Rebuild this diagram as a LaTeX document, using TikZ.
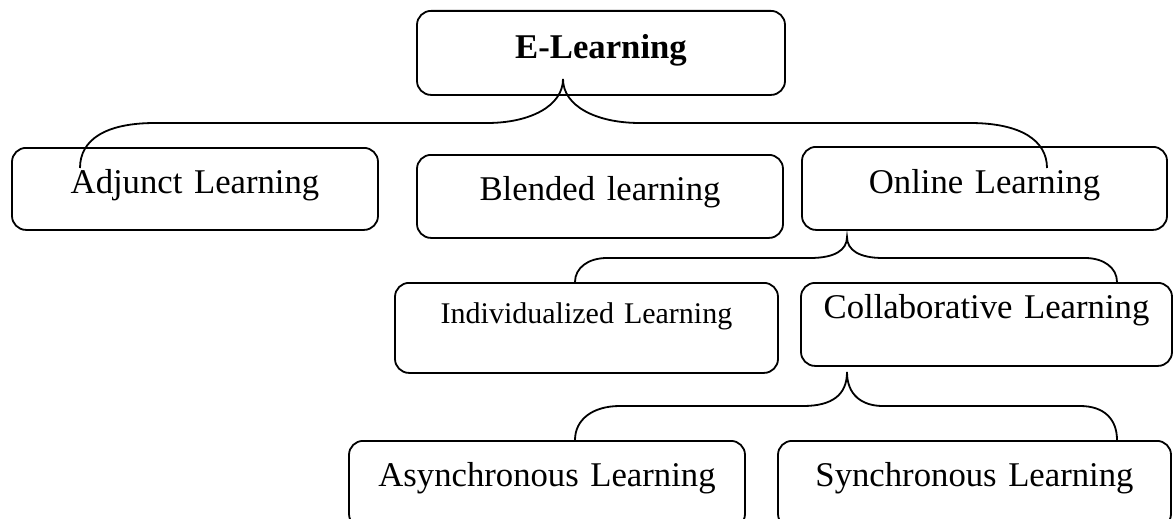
\documentclass[tikz,border=0pt]{standalone}
\usepackage{fontspec}
\setmainfont{Liberation Serif}
\begin{document}
\begin{tikzpicture}[x=1pt,y=-1pt]
\tikzset{
  box/.style={draw, line width=1.8pt, rounded corners=14pt, inner sep=0pt,
    align=center, anchor=north, font=\fontsize{34.7pt}{40pt}\selectfont},
  brace/.style={line width=1.8pt},
}
\useasboundingbox (0,0) rectangle (1173,519);
% boxes
\node[box, text width=368pt, text height=48pt, text depth=36pt] (elearn) at (601,10) {\textbf{E-Learning}};
\node[box, text width=366pt, text height=46pt, text depth=36pt] (adj) at (195,147) {Adjunct Learning};
\node[box, text width=366pt, text height=46pt, text depth=37pt] (blend) at (600,154) {Blended learning};
\node[box, text width=365pt, text height=47pt, text depth=36pt] (online) at (984.5,146) {Online Learning};
\node[box, text width=383pt, text height=41pt, text depth=49pt, font=\fontsize{30pt}{36pt}\selectfont] (indiv) at (586.5,282) {Individualized Learning};
\node[box, text width=371pt, text height=36pt, text depth=47pt] (collab) at (986.5,282) {Collaborative Learning};
\node[box, text width=396pt, text height=46pt, text depth=41pt] (async) at (547,440) {Asynchronous Learning};
\node[box, text width=393pt, text height=46pt, text depth=41pt] (sync) at (974.5,440) {Synchronous Learning};
% brace points
\coordinate (etip) at (563,79);
\coordinate (el) at (80,168);
\coordinate (er) at (1047,168);
\coordinate (otip) at (847,237);
\coordinate (ol) at (575,282);
\coordinate (or) at (1117,282);
\coordinate (ctip) at (847,372);
\coordinate (cl) at (575,440);
\coordinate (cr) at (1117,440);
% braces
\draw[brace] (el) .. controls (80,140) and (105,123) .. (155,123) -- (487,123)
  .. controls (530,123) and (563,106) .. (etip)
  .. controls (563,106) and (596,123) .. (640,123) -- (970,123)
  .. controls (1020,123) and (1047,140) .. (er);
\draw[brace] (ol) .. controls (575,268) and (588,258) .. (607,258) -- (810,258)
  .. controls (835,258) and (847,250) .. (otip)
  .. controls (847,250) and (859,258) .. (883,258) -- (1085,258)
  .. controls (1104,258) and (1117,268) .. (or);
\draw[brace] (cl) .. controls (575,420) and (592,406) .. (620,406) -- (803,406)
  .. controls (832,406) and (847,395) .. (ctip)
  .. controls (847,395) and (862,406) .. (883,406) -- (1080,406)
  .. controls (1105,406) and (1117,420) .. (cr);
\end{tikzpicture}
\end{document}
